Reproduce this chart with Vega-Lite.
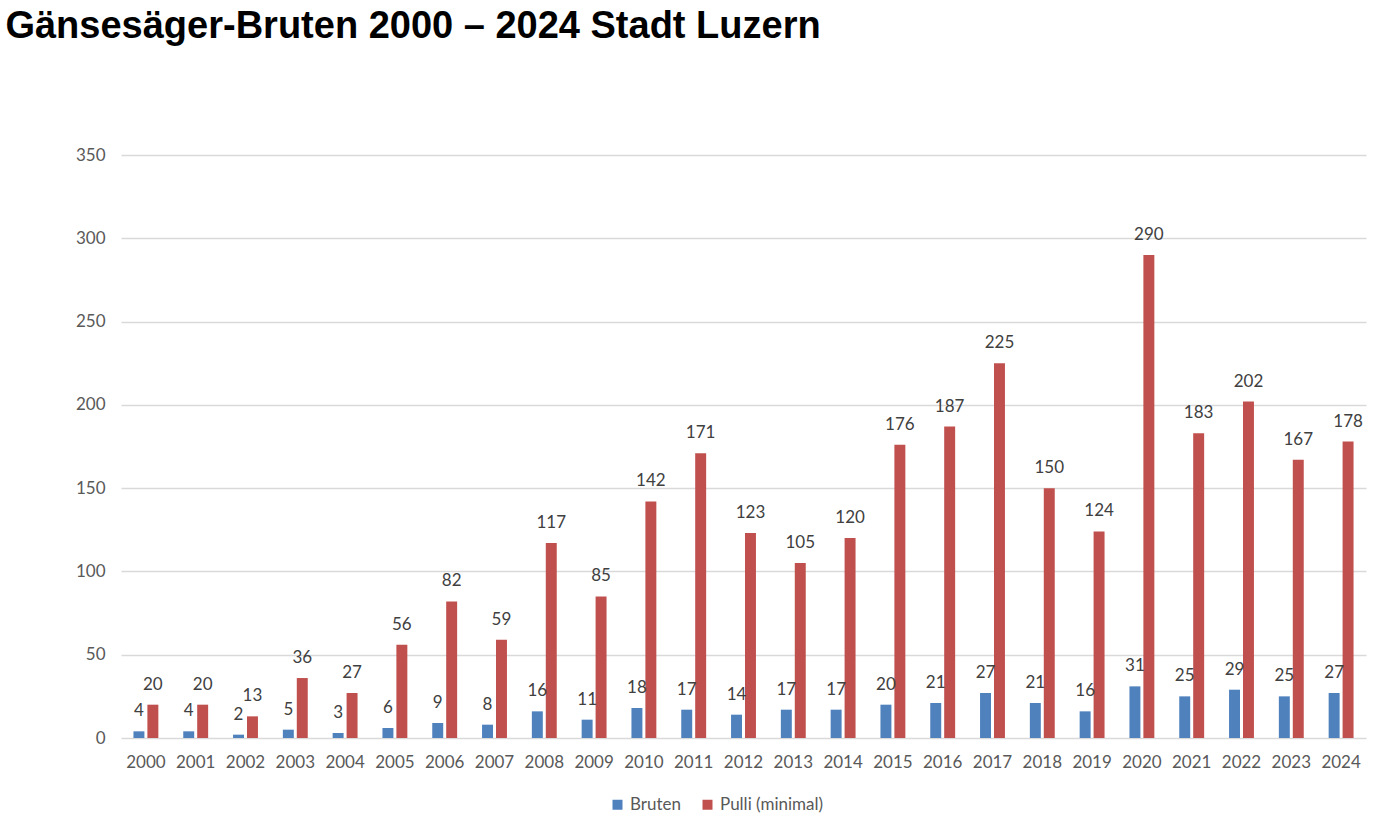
{
  "$schema": "https://vega.github.io/schema/vega-lite/v6.json",
  "width": 1245,
  "height": 583,
  "autosize": {"type": "none"},
  "padding": {"left": 121, "top": 155, "right": 29, "bottom": 88},
  "background": "white",
  "title": {
    "text": "Gänsesäger-Bruten 2000 – 2024 Stadt Luzern",
    "anchor": "start",
    "font": "Liberation Sans",
    "fontSize": 38,
    "fontWeight": "bold",
    "color": "black",
    "dx": -70,
    "offset": 100
  },
  "config": {"view": {"stroke": null}},
  "data": {
    "values": [
      {"year": "2000", "series": "Bruten", "value": 4}, {"year": "2000", "series": "Pulli (minimal)", "value": 20},
      {"year": "2001", "series": "Bruten", "value": 4}, {"year": "2001", "series": "Pulli (minimal)", "value": 20},
      {"year": "2002", "series": "Bruten", "value": 2}, {"year": "2002", "series": "Pulli (minimal)", "value": 13},
      {"year": "2003", "series": "Bruten", "value": 5}, {"year": "2003", "series": "Pulli (minimal)", "value": 36},
      {"year": "2004", "series": "Bruten", "value": 3}, {"year": "2004", "series": "Pulli (minimal)", "value": 27},
      {"year": "2005", "series": "Bruten", "value": 6}, {"year": "2005", "series": "Pulli (minimal)", "value": 56},
      {"year": "2006", "series": "Bruten", "value": 9}, {"year": "2006", "series": "Pulli (minimal)", "value": 82},
      {"year": "2007", "series": "Bruten", "value": 8}, {"year": "2007", "series": "Pulli (minimal)", "value": 59},
      {"year": "2008", "series": "Bruten", "value": 16}, {"year": "2008", "series": "Pulli (minimal)", "value": 117},
      {"year": "2009", "series": "Bruten", "value": 11}, {"year": "2009", "series": "Pulli (minimal)", "value": 85},
      {"year": "2010", "series": "Bruten", "value": 18}, {"year": "2010", "series": "Pulli (minimal)", "value": 142},
      {"year": "2011", "series": "Bruten", "value": 17}, {"year": "2011", "series": "Pulli (minimal)", "value": 171},
      {"year": "2012", "series": "Bruten", "value": 14}, {"year": "2012", "series": "Pulli (minimal)", "value": 123},
      {"year": "2013", "series": "Bruten", "value": 17}, {"year": "2013", "series": "Pulli (minimal)", "value": 105},
      {"year": "2014", "series": "Bruten", "value": 17}, {"year": "2014", "series": "Pulli (minimal)", "value": 120},
      {"year": "2015", "series": "Bruten", "value": 20}, {"year": "2015", "series": "Pulli (minimal)", "value": 176},
      {"year": "2016", "series": "Bruten", "value": 21}, {"year": "2016", "series": "Pulli (minimal)", "value": 187},
      {"year": "2017", "series": "Bruten", "value": 27}, {"year": "2017", "series": "Pulli (minimal)", "value": 225},
      {"year": "2018", "series": "Bruten", "value": 21}, {"year": "2018", "series": "Pulli (minimal)", "value": 150},
      {"year": "2019", "series": "Bruten", "value": 16}, {"year": "2019", "series": "Pulli (minimal)", "value": 124},
      {"year": "2020", "series": "Bruten", "value": 31}, {"year": "2020", "series": "Pulli (minimal)", "value": 290},
      {"year": "2021", "series": "Bruten", "value": 25}, {"year": "2021", "series": "Pulli (minimal)", "value": 183},
      {"year": "2022", "series": "Bruten", "value": 29}, {"year": "2022", "series": "Pulli (minimal)", "value": 202},
      {"year": "2023", "series": "Bruten", "value": 25}, {"year": "2023", "series": "Pulli (minimal)", "value": 167},
      {"year": "2024", "series": "Bruten", "value": 27}, {"year": "2024", "series": "Pulli (minimal)", "value": 178}
    ]
  },
  "encoding": {
    "x": {
      "field": "year",
      "type": "ordinal",
      "scale": {"paddingInner": 0.5, "paddingOuter": 0.25},
      "axis": {
        "title": null,
        "labelAngle": 0,
        "labelFont": "Lato",
        "labelFontSize": 17,
        "labelColor": "#595959",
        "domain": false,
        "ticks": false,
        "labelPadding": 16
      }
    },
    "xOffset": {
      "field": "series",
      "type": "nominal",
      "scale": {"paddingInner": 0.214, "paddingOuter": 0}
    },
    "y": {
      "field": "value",
      "type": "quantitative",
      "scale": {"domain": [0, 350], "nice": false},
      "axis": {
        "title": null,
        "values": [0, 50, 100, 150, 200, 250, 300, 350],
        "labelFont": "Lato",
        "labelFontSize": 17,
        "labelColor": "#595959",
        "domain": false,
        "ticks": false,
        "labelPadding": 16,
        "gridColor": "#D9D9D9",
        "gridWidth": 1.5
      }
    }
  },
  "layer": [
    {
      "mark": {"type": "bar"},
      "encoding": {
        "color": {
          "field": "series",
          "type": "nominal",
          "scale": {"domain": ["Bruten", "Pulli (minimal)"], "range": ["#4F81BD", "#C0504D"]},
          "legend": {
            "title": null,
            "orient": "none",
            "direction": "horizontal",
            "legendX": 488,
            "legendY": 641,
            "symbolType": "square",
            "symbolSize": 100,
            "symbolStrokeWidth": 0,
            "labelFont": "Lato",
            "labelFontSize": 17,
            "labelColor": "#595959",
            "columnPadding": 18
          }
        }
      }
    },
    {
      "mark": {"type": "text", "baseline": "bottom", "dy": -11, "font": "Lato", "fontSize": 17, "color": "#404040"},
      "encoding": {"text": {"field": "value", "type": "quantitative"}}
    }
  ]
}
